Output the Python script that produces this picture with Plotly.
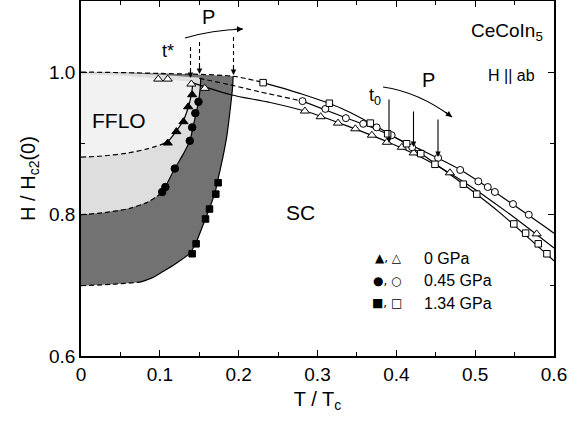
import plotly.graph_objects as go

# ---------------- data ----------------
# filled symbols: FFLO boundary t*(H)
tri_f_T = [0.110, 0.121, 0.130, 0.136, 0.141]
tri_f_H = [0.900, 0.916, 0.930, 0.951, 0.968]
cir_f_T = [0.103, 0.107, 0.119, 0.138, 0.141, 0.145, 0.149]
cir_f_H = [0.831, 0.838, 0.864, 0.903, 0.922, 0.942, 0.958]
sq_f_T = [0.141, 0.146, 0.158, 0.163, 0.171, 0.174]
sq_f_H = [0.744, 0.758, 0.793, 0.807, 0.828, 0.844]

# open symbols: Hc2(T)
tri_o_T = [0.098, 0.110, 0.140, 0.157, 0.284, 0.304, 0.326, 0.348, 0.369, 0.388, 0.407, 0.422, 0.468, 0.578]
tri_o_H = [0.990, 0.990, 0.983, 0.977, 0.945, 0.937, 0.928, 0.920, 0.911, 0.901, 0.894, 0.886, 0.858, 0.772]
cir_o_T = [0.281, 0.310, 0.336, 0.358, 0.375, 0.394, 0.420, 0.453, 0.481, 0.504, 0.516, 0.525, 0.548, 0.568]
cir_o_H = [0.959, 0.948, 0.935, 0.927, 0.922, 0.911, 0.894, 0.879, 0.862, 0.846, 0.838, 0.831, 0.814, 0.799]
sq_o_T = [0.231, 0.315, 0.367, 0.389, 0.413, 0.431, 0.449, 0.485, 0.502, 0.549, 0.564, 0.580, 0.591]
sq_o_H = [0.985, 0.956, 0.928, 0.913, 0.899, 0.885, 0.870, 0.842, 0.828, 0.786, 0.773, 0.758, 0.744]

# Hc2 guide lines
hc2_0_T = [0.138, 0.19, 0.24, 0.29, 0.34, 0.39, 0.44, 0.49, 0.54, 0.60]
hc2_0_H = [0.986, 0.968, 0.957, 0.943, 0.923, 0.901, 0.875, 0.842, 0.803, 0.752]
hc2_045_dash_T = [0.150, 0.189, 0.227, 0.281]
hc2_045_dash_H = [0.991, 0.982, 0.972, 0.959]
hc2_045_T = [0.281, 0.33, 0.38, 0.43, 0.48, 0.53, 0.60]
hc2_045_H = [0.959, 0.938, 0.917, 0.891, 0.863, 0.827, 0.773]
hc2_134_dash_T = [0.0, 0.10, 0.193, 0.231]
hc2_134_dash_H = [1.000, 0.998, 0.994, 0.985]
hc2_134_T = [0.231, 0.28, 0.33, 0.38, 0.43, 0.48, 0.53, 0.60]
hc2_134_H = [0.985, 0.969, 0.949, 0.920, 0.886, 0.846, 0.803, 0.734]

# FFLO region boundaries (0, 0.45, 1.34 GPa)
lt_dash_T = [0.0, 0.03, 0.06, 0.085, 0.100]
lt_dash_H = [0.880, 0.882, 0.886, 0.892, 0.897]
lt_curve_T = [0.100, 0.110, 0.121, 0.130, 0.136, 0.140, 0.142]
lt_curve_H = [0.897, 0.902, 0.917, 0.932, 0.950, 0.968, 0.986]
lt_top_T = [0.142, 0.10, 0.05, 0.0]
lt_top_H = [0.986, 0.991, 0.995, 0.997]

md_dash_T = [0.0, 0.03, 0.062, 0.085, 0.103]
md_dash_H = [0.799, 0.802, 0.808, 0.817, 0.830]
md_curve_T = [0.103, 0.107, 0.119, 0.130, 0.138, 0.142, 0.146, 0.149, 0.151, 0.152]
md_curve_H = [0.830, 0.838, 0.864, 0.885, 0.903, 0.922, 0.942, 0.958, 0.975, 0.992]
md_top_T = [0.152, 0.10, 0.05, 0.0]
md_top_H = [0.992, 0.996, 0.999, 1.000]

dk_dash_T = [0.0, 0.04, 0.075]
dk_dash_H = [0.699, 0.701, 0.704]
dk_curve_T = [0.075, 0.09, 0.104, 0.12, 0.138, 0.146, 0.155, 0.163, 0.170, 0.175, 0.180, 0.185, 0.189, 0.192, 0.193]
dk_curve_H = [0.704, 0.710, 0.719, 0.730, 0.745, 0.760, 0.785, 0.808, 0.830, 0.855, 0.880, 0.910, 0.945, 0.975, 0.994]
dk_top_T = [0.193, 0.14, 0.07, 0.0]
dk_top_H = [0.994, 0.997, 0.999, 1.000]

x_ticks = [0, 0.1, 0.2, 0.3, 0.4, 0.5, 0.6]
x_labels = ["0", "0.1", "0.2", "0.3", "0.4", "0.5", "0.6"]
y_ticks = [0.6, 0.8, 1.0]
y_labels = ["0.6", "0.8", "1.0"]
legend_labels = ["0 GPa", "0.45 GPa", "1.34 GPa"]
legend_symbols = ["\u25B2, \u25B3", "\u25CF, \u25CB", "\u25A0, \u25A1"]

# ---------------- figure ----------------
FONT = "Liberation Sans, Arial, sans-serif"
DASH = "5px,3px"
fig = go.Figure()

def region(dT, dH, cT, cH, tT, tH, color):
    fig.add_trace(go.Scatter(x=dT + cT[1:] + tT[1:], y=dH + cH[1:] + tH[1:],
                             mode="lines", fill="toself", fillcolor=color,
                             line=dict(width=0), hoverinfo="skip", showlegend=False))

region(dk_dash_T, dk_dash_H, dk_curve_T, dk_curve_H, dk_top_T, dk_top_H, "#727272")
region(md_dash_T, md_dash_H, md_curve_T, md_curve_H, md_top_T, md_top_H, "#dedede")
region(lt_dash_T, lt_dash_H, lt_curve_T, lt_curve_H, lt_top_T, lt_top_H, "#f2f2f2")

def line(T, H, dash="solid", width=1.2):
    fig.add_trace(go.Scatter(x=T, y=H, mode="lines", line=dict(color="black", width=width, dash=dash,
                             shape="spline", smoothing=0.8), hoverinfo="skip", showlegend=False))

for T, H in [(dk_dash_T, dk_dash_H), (md_dash_T, md_dash_H), (lt_dash_T, lt_dash_H),
             (hc2_134_dash_T, hc2_134_dash_H), (hc2_045_dash_T, hc2_045_dash_H)]:
    line(T, H, DASH)
for T, H in [(dk_curve_T, dk_curve_H), (md_curve_T, md_curve_H), (lt_curve_T, lt_curve_H),
             (hc2_0_T, hc2_0_H), (hc2_045_T, hc2_045_H), (hc2_134_T, hc2_134_H)]:
    line(T, H)

def pts(T, H, symbol, size, filled):
    fig.add_trace(go.Scatter(x=T, y=H, mode="markers", showlegend=False, hoverinfo="skip",
                             marker=dict(symbol=symbol, size=size,
                                         color="black" if filled else "white",
                                         line=dict(color="black", width=1))))

pts(tri_o_T, tri_o_H, "triangle-up", 8, False)
pts(cir_o_T, cir_o_H, "circle", 7, False)
pts(sq_o_T, sq_o_H, "square", 6.5, False)
pts(tri_f_T, tri_f_H, "triangle-up", 8, True)
pts(cir_f_T, cir_f_H, "circle", 7.5, True)
pts(sq_f_T, sq_f_H, "square", 6.5, True)

# ---------------- pixel helpers for annotations ----------------
L, R, TOP, BOT = 81, 554, 1, 356
def T_of(px): return (px - L) / (R - L) * 0.6
def H_of(py): return 1.1 - (py - TOP) / (BOT - TOP) * 0.5

# dashed down-arrows (t*)
for px, top, tip in [(190.5, 47, 78), (199.5, 42, 74), (233.5, 37, 75)]:
    fig.add_shape(type="line", x0=T_of(px), x1=T_of(px), y0=H_of(top), y1=H_of(tip - 5),
                  line=dict(color="black", width=1.1, dash="4px,3px"))
    fig.add_annotation(x=T_of(px), y=H_of(tip), ax=T_of(px), ay=H_of(tip - 9), axref="x", ayref="y",
                       xref="x", yref="y", text="", showarrow=True, arrowhead=2, arrowsize=1,
                       arrowwidth=1.1, arrowcolor="black")

# solid down-arrows (t0)
for px, top, tip in [(389, 98, 143), (413.5, 110, 147), (438, 118, 157)]:
    fig.add_annotation(x=T_of(px), y=H_of(tip), ax=T_of(px), ay=H_of(top), axref="x", ayref="y",
                       xref="x", yref="y", text="", showarrow=True, arrowhead=2, arrowsize=1,
                       arrowwidth=1.1, arrowcolor="black")

# curved P arrows
for p0, c, p2 in [((185, 38), (212, 30), (243, 29)), ((383, 87), (418.5, 92), (452, 117))]:
    fig.add_shape(type="path", xref="x", yref="y",
                  path=f"M {T_of(p0[0])},{H_of(p0[1])} Q {T_of(c[0])},{H_of(c[1])} {T_of(p2[0])},{H_of(p2[1])}",
                  line=dict(color="black", width=1.2))
    dx, dy = p2[0] - c[0], p2[1] - c[1]
    n = (dx * dx + dy * dy) ** 0.5
    tx, ty = p2[0] - 10 * dx / n, p2[1] - 10 * dy / n
    fig.add_annotation(x=T_of(p2[0]), y=H_of(p2[1]), ax=T_of(tx), ay=H_of(ty), axref="x", ayref="y",
                       xref="x", yref="y", text="", showarrow=True, arrowhead=2, arrowsize=1,
                       arrowwidth=1.2, arrowcolor="black")

def txt(px, py, s, size, anchor="center"):
    fig.add_annotation(x=T_of(px), y=H_of(py), xref="x", yref="y", text=s, showarrow=False,
                       xanchor=anchor, yanchor="middle", font=dict(family=FONT, size=size, color="black"))

txt(208, 17, "P", 20)
txt(428, 80, "P", 20)
txt(168, 51, "t*", 18)
txt(375, 96, "t<sub>0</sub>", 18)
txt(118.5, 120, "FFLO", 21)
txt(300, 212, "SC", 21)
txt(507, 32, "CeCoIn<sub>5</sub>", 19)
txt(511, 75, "H || ab", 16)

for i, (sym, lab) in enumerate(zip(legend_symbols, legend_labels)):
    py = 258 + 22.5 * i
    fig.add_annotation(x=T_of(404), y=H_of(py), xref="x", yref="y", text=sym, showarrow=False,
                       xanchor="right", yanchor="middle",
                       font=dict(family="DejaVu Sans", size=12, color="black"))
    txt(422, py, lab, 16, "left")

axis_common = dict(showline=True, linecolor="black", linewidth=1.5, mirror="allticks",
                   ticks="inside", ticklen=6, tickwidth=1.2, tickcolor="black", showgrid=False,
                   zeroline=False, tickfont=dict(family=FONT, size=19, color="black"))
fig.update_xaxes(range=[0, 0.6], tickvals=x_ticks, ticktext=x_labels,
                 minor=dict(ticks="inside", ticklen=4, dtick=0.05, tick0=0, tickcolor="black", tickwidth=1),
                 title=dict(text="T / T<sub>c</sub>", font=dict(family=FONT, size=20, color="black"), standoff=8),
                 **axis_common)
fig.update_yaxes(range=[0.6, 1.1], tickvals=y_ticks, ticktext=y_labels,
                 minor=dict(ticks="inside", ticklen=4, dtick=0.1, tick0=0.6, tickcolor="black", tickwidth=1),
                 title=dict(text="H / H<sub>c2</sub>(0)", font=dict(family=FONT, size=20, color="black"), standoff=8),
                 **axis_common)
fig.update_layout(width=580, height=423, margin=dict(l=81, r=26, t=1, b=67, autoexpand=False),
                  plot_bgcolor="white", paper_bgcolor="white", showlegend=False)
fig.write_html("out.html", config={"displayModeBar": False},
               post_script="document.body.style.margin='0';document.body.style.overflow='hidden';")
